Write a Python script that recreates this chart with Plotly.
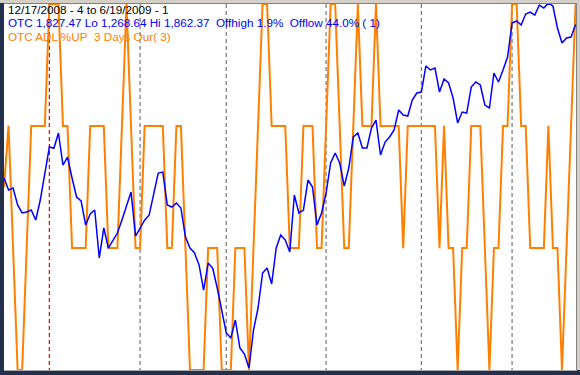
import pandas as pd
import plotly.graph_objects as go

# ---- data ----
holidays = ["2008-12-25", "2009-01-01", "2009-01-19", "2009-02-16", "2009-04-10", "2009-05-25"]
dates = [d for d in pd.bdate_range("2008-12-17", "2009-06-19") if d.strftime("%Y-%m-%d") not in holidays]

otc_close = [
    1577.7, 1558.2, 1561.4, 1533.8, 1520.8, 1522.4, 1525.6, 1509.4, 1541.9, 1582.6,
    1628.1, 1626.0, 1650.9, 1598.8, 1611.8, 1577.7, 1546.8, 1540.3, 1501.2, 1519.1,
    1525.6, 1447.6, 1496.4, 1463.8, 1475.2, 1488.2, 1509.4, 1530.5, 1554.9, 1483.3,
    1496.4, 1509.0, 1517.5, 1550.0, 1585.8, 1587.4, 1533.8, 1530.5, 1537.0, 1528.9,
    1481.7, 1463.8, 1455.7, 1436.2, 1395.5, 1439.4, 1431.3, 1398.8, 1359.7, 1325.6,
    1317.4, 1346.7, 1301.2, 1291.4, 1268.64, 1330.4, 1366.2, 1423.2, 1431.3, 1405.3,
    1463.8, 1485.0, 1476.8, 1457.3, 1550.0, 1520.8, 1525.6, 1574.4, 1563.0, 1501.2,
    1520.8, 1553.3, 1602.1, 1618.3, 1602.1, 1564.6, 1593.9, 1644.4, 1650.9, 1626.5,
    1626.5, 1659.0, 1672.0, 1615.1, 1636.2, 1644.4, 1655.8, 1688.3, 1680.2, 1678.5,
    1704.5, 1716.0, 1717.6, 1759.9, 1753.4, 1756.6, 1717.6, 1738.7, 1732.2, 1707.8,
    1667.2, 1685.0, 1683.4, 1725.7, 1733.9, 1729.0, 1696.4, 1691.6, 1748.5, 1733.9,
    1753.4, 1774.5, 1829.8, 1833.1, 1826.6, 1844.4, 1847.7, 1842.8, 1859.1, 1854.2,
    1862.37, 1857.5, 1821.7, 1797.3, 1805.4, 1807.0, 1827.47,
]

adl_pct_up = [
    50, 66.7, 33.3, 0, 0, 33.3, 66.7, 66.7, 66.7, 66.7,
    100, 100, 100, 66.7, 66.7, 33.3, 33.3, 33.3, 33.3, 66.7,
    66.7, 66.7, 66.7, 33.3, 33.3, 33.3, 66.7, 100, 66.7, 33.3,
    33.3, 66.7, 66.7, 66.7, 66.7, 66.7, 33.3, 33.3, 66.7, 66.7,
    33.3, 0, 0, 0, 0, 33.3, 33.3, 33.3, 0, 0,
    0, 33.3, 33.3, 33.3, 0, 33.3, 66.7, 100, 100, 66.7,
    66.7, 66.7, 66.7, 33.3, 33.3, 33.3, 66.7, 66.7, 66.7, 33.3,
    33.3, 66.7, 100, 100, 66.7, 33.3, 33.3, 66.7, 100, 66.7,
    66.7, 66.7, 100, 66.7, 66.7, 66.7, 66.7, 66.7, 33.3, 66.7,
    66.7, 66.7, 66.7, 66.7, 66.7, 66.7, 33.3, 66.7, 33.3, 33.3,
    0, 33.3, 33.3, 66.7, 66.7, 66.7, 33.3, 0, 33.3, 33.3,
    66.7, 66.7, 100, 100, 66.7, 66.7, 33.3, 33.3, 33.3, 33.3,
    66.7, 33.3, 33.3, 0, 33.3, 66.7, 100,
]

title_line = "12/17/2008 - 4 to 6/19/2009 - 1"
otc_line = ("OTC 1,827.47 Lo 1,268.64 Hi 1,862.37\u00a0 Offhigh 1.9%\u00a0 "
            "Offlow 44.0%\u00a0( 1)")
adl_line = "OTC ADL %UP\u00a0 3 Days Our( 3)"

# ---- geometry ----
W, H = 580, 375
L, R, T, B = 4, 4, 3, 3
PW, PH = W - L - R, H - T - B
n = len(dates)
x = list(range(n))


def px(p):
    return (p - L) / PW


def py(p):
    return (H - B - p) / PH


fig = go.Figure()
fig.add_trace(go.Scatter(x=x, y=adl_pct_up, mode="lines",
                         line=dict(color="#FF8000", width=2), yaxis="y",
                         hoverinfo="skip", showlegend=False))
fig.add_trace(go.Scatter(x=x, y=otc_close, mode="lines",
                         line=dict(color="#0000FF", width=1.5), yaxis="y2",
                         hoverinfo="skip", showlegend=False))

shapes = []
# month boundary dashed lines
for i in range(1, n):
    if dates[i].month != dates[i - 1].month:
        col = "#E81010" if dates[i].year != dates[i - 1].year else "#808080"
        shapes.append(dict(type="line", xref="x", yref="paper", x0=i, x1=i,
                           y0=0, y1=1, layer="below",
                           line=dict(color=col, width=1.3, dash="4px,3px")))

# window frame
shapes += [
    dict(type="rect", xref="paper", yref="paper", x0=px(0), x1=px(W),
         y0=py(3), y1=py(0), fillcolor="#D4D0C8", line=dict(width=0), layer="above"),
    dict(type="line", xref="paper", yref="paper", x0=px(4), x1=px(576),
         y0=py(3.5), y1=py(3.5), line=dict(color="#808080", width=1), layer="above"),
    dict(type="rect", xref="paper", yref="paper", x0=px(576), x1=px(W),
         y0=py(375), y1=py(0), fillcolor="#D4D0C8", line=dict(width=0), layer="above"),
    dict(type="line", xref="paper", yref="paper", x0=px(576.5), x1=px(576.5),
         y0=py(370), y1=py(3), line=dict(color="#808080", width=1), layer="above"),
    dict(type="rect", xref="paper", yref="paper", x0=px(0), x1=px(W),
         y0=py(375), y1=py(370), fillcolor="#22304E", line=dict(width=0), layer="above"),
    dict(type="line", xref="paper", yref="paper", x0=px(4), x1=px(577),
         y0=py(370.5), y1=py(370.5), line=dict(color="#A8A8A8", width=1), layer="above"),
]

font_family = "Liberation Sans, Arial, sans-serif"
annotations = [
    dict(text=title_line, x=px(7), y=py(9.5), color="#000000"),
    dict(text=otc_line, x=px(7), y=py(22.5), color="#0000FF"),
    dict(text=adl_line, x=px(7), y=py(36), color="#FF8000"),
]
annotations = [dict(text=a["text"], x=a["x"], y=a["y"], xref="paper", yref="paper",
                    xanchor="left", yanchor="middle", showarrow=False, borderpad=0,
                    font=dict(family=font_family, size=11.7, color=a["color"]))
               for a in annotations]

# axis ranges from pixel calibration
blue_per_px = (1862.37 - 1268.64) / 365.0
y2_lo = 1268.64 - (H - B - 368) * blue_per_px
y2_hi = 1268.64 + (368 - T) * blue_per_px
or_per_px = 33.333 / 122.0
y_lo = 0 - (H - B - 370) * or_per_px
y_hi = 0 + (370 - T) * or_per_px

axis_off = dict(visible=False, showgrid=False, zeroline=False, fixedrange=True)
fig.update_layout(
    width=W, height=H, autosize=False,
    margin=dict(l=L, r=R, t=T, b=B, pad=0),
    paper_bgcolor="#22304E", plot_bgcolor="#FFFFFF",
    xaxis=dict(range=[0, (n - 1) + 0.4 / 4.537], **axis_off),
    yaxis=dict(range=[y_lo, y_hi], **axis_off),
    yaxis2=dict(range=[y2_lo, y2_hi], overlaying="y", **axis_off),
    shapes=shapes, annotations=annotations, showlegend=False,
)

fig.write_html("out.html", config={"displayModeBar": False},
               post_script="document.body.style.margin='0';document.body.style.padding='0';"
                           "document.body.style.overflow='hidden';")
